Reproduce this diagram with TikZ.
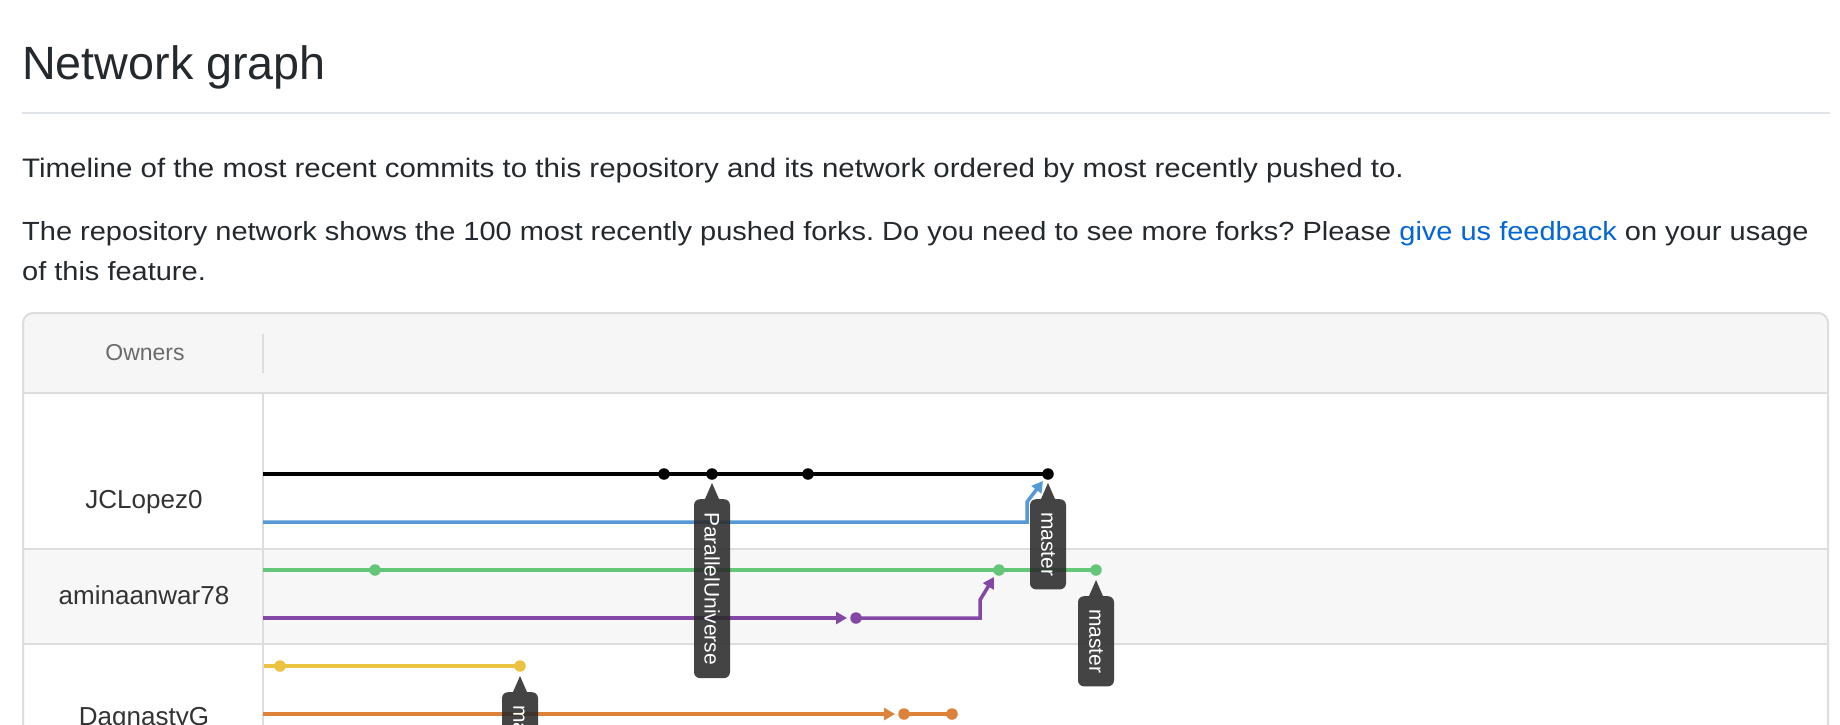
\documentclass[tikz,border=0pt]{standalone}
\usepackage{fontspec}
\setmainfont{Liberation Sans}
\newfontfamily\ngWideFam{Liberation Sans}[FakeStretch=1.104]
\usetikzlibrary{arrows.meta}
\definecolor{txt}{HTML}{24292E}
\definecolor{linkc}{HTML}{0366D6}
\definecolor{rulec}{HTML}{E1E4E8}
\definecolor{bord}{HTML}{DDDDDD}
\definecolor{hdrbg}{HTML}{F6F6F6}
\definecolor{rowbg}{HTML}{F7F7F7}
\definecolor{owc}{HTML}{6A6A6A}
\definecolor{namec}{HTML}{333333}
\definecolor{gblack}{HTML}{000000}
\definecolor{gblue}{HTML}{5799D6}
\definecolor{ggreen}{HTML}{63C679}
\definecolor{gpurple}{HTML}{8347A6}
\definecolor{gyellow}{HTML}{EAC342}
\definecolor{gorange}{HTML}{DC823A}
\definecolor{tagc}{HTML}{2B2B2B}
\newcommand\ngTitle{\fontsize{46.7pt}{50pt}\selectfont}
\newcommand\ngBodyA{\ngWideFam\fontsize{26.7pt}{30pt}\selectfont\frenchspacing}
\newcommand\ngBodyB{\ngWideFam\fontsize{26.25pt}{30pt}\selectfont\frenchspacing}
\newcommand\ngOwn{\fontsize{23pt}{26pt}\selectfont}
\newcommand\ngName{\fontsize{26pt}{30pt}\selectfont}
\newcommand\ngTag{\fontsize{21pt}{23pt}\selectfont}
\pgfdeclarelayer{bg}
\pgfdeclarelayer{lines}
\pgfsetlayers{bg,lines,main}
\begin{document}
\begin{tikzpicture}[x=1pt,y=-1pt,
  bodytext/.style={anchor=base west, inner sep=0pt, text=txt, font=\ngBodyB},
  ownername/.style={anchor=base, inner sep=0pt, text=namec, font=\ngName},
  gline/.style={line width=3.5pt, draw=#1},
  arr/.style={-{Triangle[length=11pt,width=12pt]}},
  dot/.style={circle, fill=#1, inner sep=0pt, minimum size=11.5pt},
  tagnode/.style={rotate=-90, anchor=west, fill=tagc, fill opacity=0.88, text opacity=1,
    text=white, rounded corners=6pt, minimum height=36pt, inner xsep=13pt, inner ysep=0pt,
    font=\ngTag},
  tagtip/.style={fill=tagc, fill opacity=0.88},
  tline/.style={draw=bord, line width=2pt}]
\useasboundingbox (0,0) rectangle (1840,724);

% ---------- table background ----------
\begin{pgfonlayer}{bg}
  \fill[white] (0,0) rectangle (1840,724);
  \begin{scope}
    \clip[rounded corners=10pt] (23,313) rectangle (1828,800);
    \fill[white] (23,313) rectangle (1828,800);
    \fill[hdrbg] (23,313) rectangle (1828,393);
    \fill[rowbg] (23,549) rectangle (1828,644);
  \end{scope}
  \draw[tline, rounded corners=10pt] (23,313) rectangle (1828,800);
  \draw[tline] (23,393) -- (1828,393);
  \draw[tline] (23,549) -- (1828,549);
  \draw[tline] (23,644) -- (1828,644);
  \draw[tline] (263,393) -- (263,800);
  \draw[tline] (263,334) -- (263,373);
\end{pgfonlayer}

% ---------- page text ----------
\node[anchor=base west, inner sep=0pt, text=txt, font=\ngTitle] (title) at (22,79) {Network graph};
\draw[draw=rulec, line width=2pt] (22,113) -- (1830,113);
\node[bodytext, font=\ngBodyA] (l1) at (22,177) {Timeline of the most recent commits to this repository and its network ordered by most recently pushed to.};
\node[bodytext] (l2) at (22,240) {The repository network shows the 100 most recently pushed forks. Do you need to see more forks? Please \textcolor{linkc}{give us feedback} on your usage};
\node[bodytext] (l3) at (22,280) {of this feature.};

% ---------- owners column ----------
\node[anchor=base, inner sep=0pt, text=owc, font=\ngOwn] (own) at (145,360) {Owners};
\node[ownername] (n1) at (144,508) {JCLopez0};
\node[ownername] (n2) at (144,604) {aminaanwar78};
\node[ownername] (n3) at (144,725) {DagnastyG};

% ---------- commits ----------
\node[dot=gblack] (b1) at (664,474) {};
\node[dot=gblack] (b2) at (712,474) {};
\node[dot=gblack] (b3) at (808,474) {};
\node[dot=gblack] (b4) at (1048,474) {};
\node[dot=ggreen] (g1) at (375,570) {};
\node[dot=ggreen] (g2) at (999,570) {};
\node[dot=ggreen] (g3) at (1096,570) {};
\node[dot=gpurple] (p1) at (856,618) {};
\node[dot=gyellow] (y1) at (280,666) {};
\node[dot=gyellow] (y2) at (520,666) {};
\node[dot=gorange] (o1) at (904,714) {};
\node[dot=gorange] (o2) at (952,714) {};

\coordinate (bs) at (263,474);
\coordinate (ls) at (263,522);
\coordinate (gs) at (263,570);
\coordinate (ps) at (263,618);
\coordinate (ys) at (264,666);
\coordinate (os) at (263,714);
\coordinate (lt) at (1043,481);
\coordinate (pt) at (994,577);
\coordinate (pa) at (847,618);
\coordinate (oa) at (895,714);

\begin{pgfonlayer}{lines}
  \draw[gline=gblack] (bs) -- (b4.center);
  \draw[gline=gblue, arr] (ls) -- (1027,522) -- (1027,502) -- (lt);
  \draw[gline=ggreen] (gs) -- (g3.center);
  \draw[gline=gpurple, arr] (ps) -- (pa);
  \draw[gline=gpurple, arr] (p1.center) -- (980,618) -- (980,600) -- (pt);
  \draw[gline=gyellow] (ys) -- (y2.center);
  \draw[gline=gorange, arr] (os) -- (oa);
  \draw[gline=gorange] (o1.center) -- (o2.center);
\end{pgfonlayer}

% ---------- branch tags ----------
\node[tagnode] (t1) at (712,499) {ParallelUniverse};
\fill[tagtip] ([xshift=-7pt]t1.west) -- ([yshift=16pt]t1.west) -- ([xshift=7pt]t1.west) -- cycle;
\node[tagnode] (t2) at (1048,499) {master};
\fill[tagtip] ([xshift=-7pt]t2.west) -- ([yshift=16pt]t2.west) -- ([xshift=7pt]t2.west) -- cycle;
\node[tagnode] (t3) at (1096,596) {master};
\fill[tagtip] ([xshift=-7pt]t3.west) -- ([yshift=16pt]t3.west) -- ([xshift=7pt]t3.west) -- cycle;
\node[tagnode] (t4) at (520,692) {master};
\fill[tagtip] ([xshift=-7pt]t4.west) -- ([yshift=16pt]t4.west) -- ([xshift=7pt]t4.west) -- cycle;
\end{tikzpicture}
\end{document}
